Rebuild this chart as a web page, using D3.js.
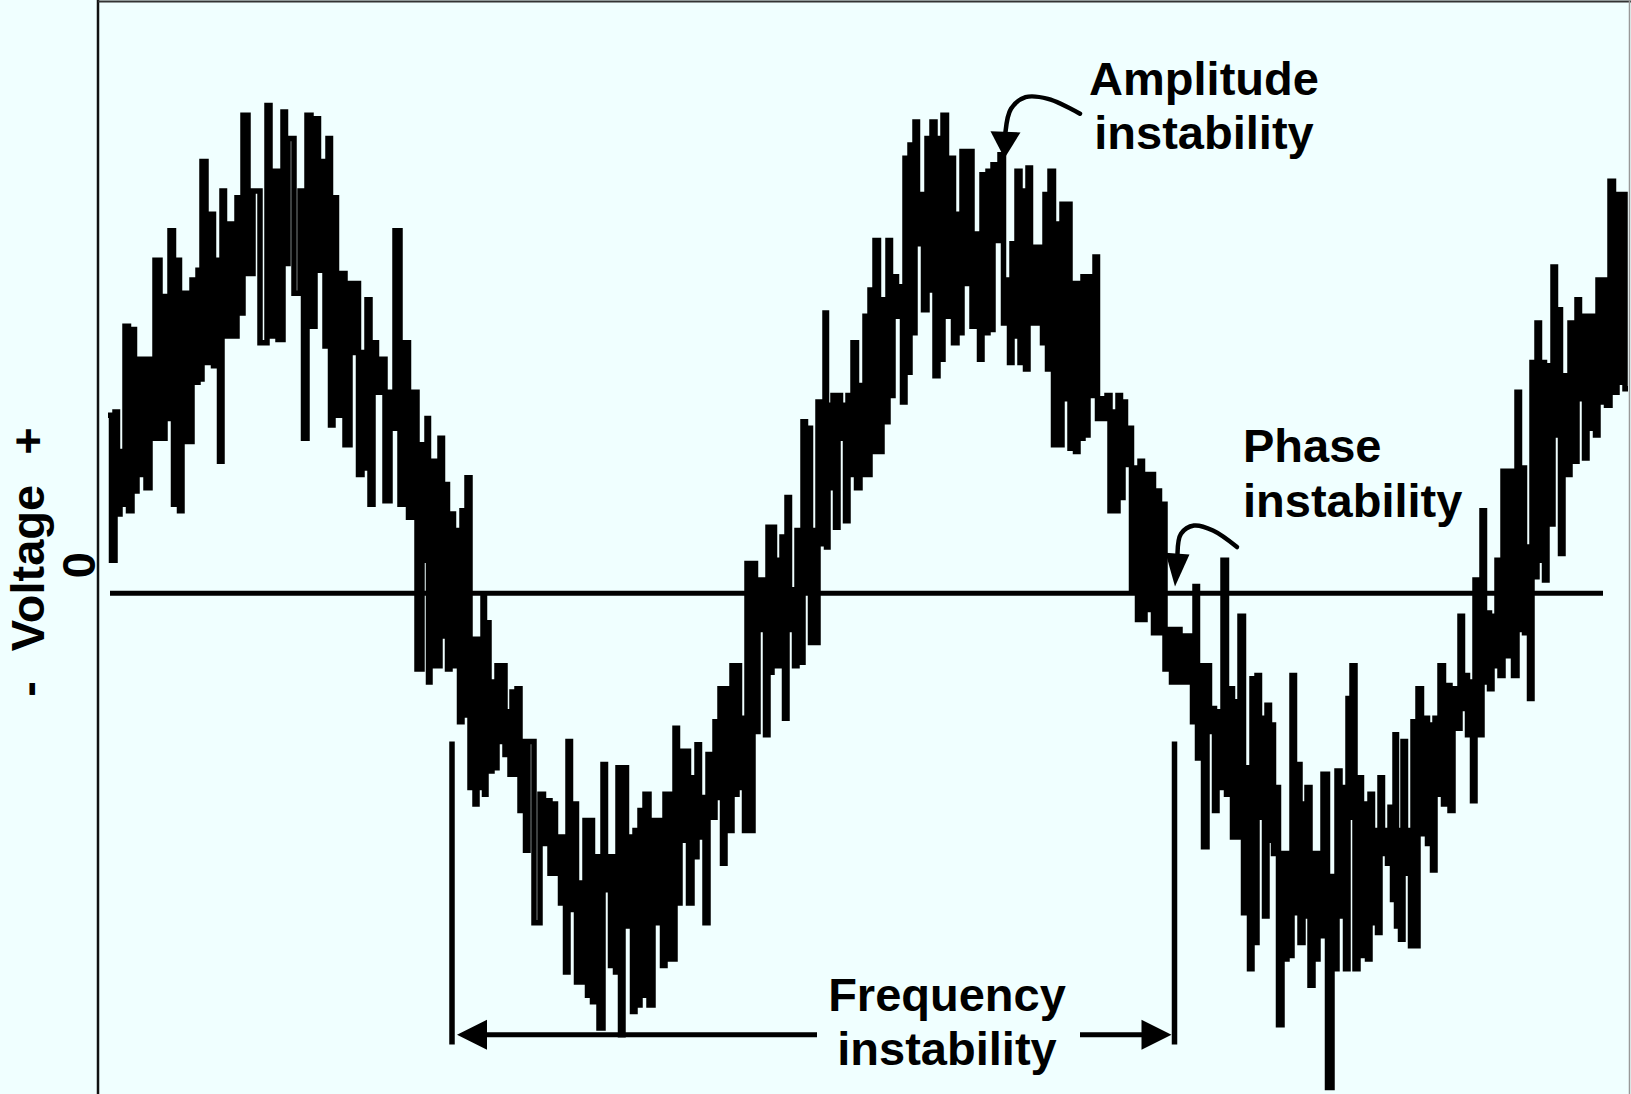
<!DOCTYPE html>
<html>
<head>
<meta charset="utf-8" />
<script src="https://cdn.jsdelivr.net/npm/d3@7/dist/d3.min.js"></script>
<title>Instability</title>
<style>
    body { margin: 0; background: #f0ffff; }
    svg { display: block; font-family: "Liberation Sans", Arial, sans-serif; font-weight: bold; }
</style>
</head>
<body>
<script>
    // trace: [time (samples), max V, min V] per column
    var trace = [
        [2.0,0.54,0.10],[3.4,0.55,0.24],[4.4,0.43,0.27],[5.4,0.81,0.25],[6.8,0.80,0.31],
        [7.8,0.71,0.36],[8.8,0.71,0.32],[10.4,0.71,0.47],[11.4,1.01,0.47],[13.4,0.90,0.53],
        [14.4,1.10,0.27],[15.8,1.01,0.25],[16.8,0.91,0.46],[18.8,0.95,0.64],[20.0,0.98,0.65],
        [20.8,1.31,0.70],[22.4,1.15,0.69],[23.8,1.01,0.40],[24.8,1.22,0.78],[25.8,1.12,0.78],
        [27.8,1.20,0.85],[29.0,1.45,0.97],[31.0,1.22,0.76],[33.8,1.48,0.78],[35.0,1.28,0.77],
        [37.0,1.46,1.00],[38.0,1.38,0.91],[40.4,1.22,0.47],[41.8,1.45,0.81],[43.4,1.44,0.98],
        [44.8,1.31,0.75],[46.0,1.38,0.51],[47.0,1.20,0.54],[48.4,0.97,0.45],[50.4,0.94,0.73],
        [51.4,0.94,0.36],[52.8,0.73,0.38],[53.8,0.89,0.27],[55.0,0.76,0.61],[56.4,0.71,0.28],
        [58.4,0.61,0.50],[59.4,1.10,0.27],[61.4,0.76,0.23],[62.8,0.61,-0.23],[64.8,0.45,0.10],
        [65.8,0.53,-0.27],[66.4,0.40,-0.22],[68.4,0.47,-0.13],[69.4,0.33,-0.23],[70.4,0.24,-0.22],
        [71.8,0.19,-0.39],[72.8,0.25,-0.37],[73.8,0.35,-0.59],
        [75.0,-0.14,-0.64],[75.8,-0.14,-0.59],[77.0,-0.01,-0.61],[77.6,-0.09,-0.54],[78.8,-0.27,-0.53],
        [79.8,-0.22,-0.45],[80.8,-0.22,-0.49],[82.0,-0.36,-0.55],[82.8,-0.30,-0.55],[83.8,-0.29,-0.66],
        [85.0,-0.45,-0.78],[86.0,-0.45,-1.00],[88.4,-0.61,-0.76],[89.8,-0.63,-0.85],[91.0,-0.64,-0.85],
        [92.0,-0.74,-0.94],[93.0,-0.74,-1.15],[94.0,-0.45,-0.96],[95.0,-0.64,-1.18],[96.4,-0.88,-1.18],
        [97.4,-0.69,-1.22],[98.4,-0.69,-1.24],[99.4,-0.80,-1.32],[101.0,-0.52,-0.90],[102.0,-0.80,-1.13],
        [103.0,-0.80,-1.15],[104.0,-0.53,-1.34],[105.0,-0.53,-1.01],[106.4,-0.74,-1.27],[107.4,-0.72,-1.25],
        [108.4,-0.66,-1.22],[109.4,-0.61,-1.25],[111.0,-0.69,-1.00],[112.4,-0.69,-1.13],[113.4,-0.61,-1.11],
        [114.4,-0.61,-1.11],[115.4,-0.41,-0.94],[116.4,-0.48,-0.75],[117.4,-0.48,-0.94],[118.8,-0.56,-0.80],
        [119.8,-0.46,-0.74],[120.8,-0.62,-1.00],[122.0,-0.49,-0.68],[123.4,-0.39,-0.62],[124.4,-0.29,-0.82],
        [125.4,-0.29,-0.72],[126.8,-0.22,-0.61],[127.8,-0.22,-0.59],[128.8,-0.38,-0.72],[129.8,0.09,-0.72],
        [131.0,0.09,-0.42],[132.0,0.04,-0.11],[133.0,0.04,-0.43],[134.0,0.20,-0.24],[134.8,0.20,-0.22],
        [135.8,0.10,-0.22],[136.8,0.17,-0.38],[137.8,0.29,-0.11],[138.8,0.01,-0.22],[139.8,0.19,-0.21],
        [141.0,0.52,0.01],[142.0,0.50,-0.15],[143.0,0.19,-0.15],[144.0,0.58,0.15],[145.4,0.85,0.14],
        [146.0,0.57,0.32],[147.0,0.60,0.20],[148.0,0.60,0.47],[149.0,0.57,0.22],[150.0,0.60,0.36],
        [151.0,0.76,0.32],
        [152.4,0.63,0.36],[153.4,0.84,0.36],[154.4,0.92,0.43],[155.4,1.07,0.43],[156.8,0.89,0.52],
        [158.0,1.07,0.60],[159.0,0.96,0.84],[160.4,0.93,0.58],[161.4,1.32,0.67],[162.4,1.36,0.79],
        [163.4,1.43,1.06],[164.4,1.21,0.86],[165.8,1.38,0.92],[166.8,1.43,0.66],[168.0,1.38,0.71],
        [169.0,1.45,0.84],[170.4,1.32,0.76],[171.8,1.15,0.79],[172.8,1.34,0.94],[173.8,1.34,0.81],
        [175.8,1.09,0.71],[176.8,1.27,0.79],[178.0,1.28,0.80],[179.0,1.30,1.07],[180.4,1.33,0.82],
        [181.8,0.95,0.70],[182.8,1.06,0.78],[183.8,1.28,0.70],[185.0,1.22,0.68],[186.0,1.29,0.82],
        [187.0,1.05,0.82],[188.4,1.05,0.76],[189.4,1.21,0.68],[190.4,1.28,0.45],[191.8,1.12,0.45],
        [192.8,1.18,0.59],[193.8,1.18,0.44],[195.0,0.94,0.43],[196.0,0.94,0.47],[197.0,0.96,0.48],
        [198.0,0.96,0.60],[199.4,1.02,0.53],[200.4,0.59,0.53],[201.8,0.60,0.25],[203.0,0.55,0.25],
        [204.0,0.60,0.29],[205.0,0.58,0.39],[206.0,0.50,0.01],[207.4,0.38,-0.08],[208.4,0.40,-0.08],
        [209.4,0.36,-0.05],[210.4,0.36,-0.12],[211.8,0.31,-0.12],[212.8,0.27,-0.23],[214.0,-0.11,-0.27],
        [215.4,-0.11,-0.27],[217.4,-0.13,-0.27],[218.4,-0.13,-0.39],[219.4,0.02,-0.50],[220.4,-0.22,-0.77],
        [221.8,-0.22,-0.42],[222.8,-0.35,-0.66],[223.8,-0.36,-0.59],[225.0,0.10,-0.61],[226.4,-0.29,-0.74],
        [227.4,-0.33,-0.74],[228.4,-0.07,-0.97],[229.8,-0.53,-1.14],[230.8,-0.26,-1.06],[231.8,-0.25,-0.68],
        [232.8,-0.38,-0.98],[233.8,-0.34,-0.75],[234.8,-0.40,-0.79],[235.4,-0.59,-1.31],[236.8,-0.79,-1.11],
        [237.8,-0.79,-1.10],[238.8,-0.25,-0.97],[239.8,-0.52,-1.06],[241.0,-0.64,-0.98],[241.8,-0.59,-1.19],
        [243.0,-0.79,-1.11],[244.0,-0.79,-1.04],[245.0,-0.55,-1.50],[246.8,-0.86,-1.14],[247.8,-0.54,-0.98],
        [249.0,-0.59,-1.14],[250.0,-0.32,-0.68],[250.8,-0.22,-1.14],[252.0,-0.56,-1.10],[253.4,-0.64,-1.11],
        [254.4,-0.61,-1.00],[255.4,-0.72,-1.03],[256.4,-0.56,-0.79],[257.4,-0.72,-0.82],[258.4,-0.65,-0.93],
        [259.4,-0.43,-1.01],[260.0,-0.72,-1.05],[261.0,-0.45,-0.85],[262.0,-0.72,-1.07],[263.0,-0.39,-1.07],
        [264.0,-0.29,-0.73],[265.4,-0.38,-0.76],[266.4,-0.40,-0.84],[267.4,-0.38,-0.61],[268.4,-0.22,-0.64],
        [269.8,-0.28,-0.66],[271.0,-0.29,-0.41],[272.4,-0.07,-0.35],[273.4,-0.25,-0.43],[274.4,-0.27,-0.63],
        [275.4,0.04,-0.43],[276.8,0.25,-0.27],[277.8,-0.06,-0.29],[278.8,-0.07,-0.22],[279.8,0.10,-0.25],
        [281.0,0.37,-0.19],[282.4,0.37,-0.25],[283.8,0.61,-0.11],[284.8,0.38,-0.12],[285.8,0.14,-0.32],
        [286.8,0.70,0.05],[287.8,0.82,0.10],[288.8,0.70,0.04],[289.8,0.69,0.21],[291.0,0.99,0.48],
        [292.0,0.86,0.12],[293.0,0.66,0.36],[294.4,0.82,0.40],[295.8,0.89,0.59],[296.8,0.84,0.41],
        [297.8,0.84,0.50],[299.0,0.84,0.48],[300.0,0.95,0.58],[301.0,0.95,0.57],[302.4,1.25,0.61],
        [303.8,1.21,0.64],[304.8,1.21,0.62]
    ];
    var traceEnd = 306.0;
    var zeroSpan = [2.4, 301];

    // frequency bracket: marker times, marker top / bottom, arrow level, gap for text
    var freqMarks = [70.8, 215.3];
    var freqMarkV = [-0.45, -1.37];
    var freqLevel = -1.34;
    var freqGap = [143.8, 196.4];

    // annotation arrows (time, V)
    var ampCurve = [[196.4, 1.455], [190, 1.50], [185.5, 1.505], [182.6, 1.47], [181.5, 1.40]];
    var ampTip = [181.3, 1.32];
    var phaseCurve = [[227.8, 0.14], [223, 0.19], [219.2, 0.205], [216.6, 0.18], [215.9, 0.12]];
    var phaseTip = [215.4, 0.02];

    var labels = [
        {lines: ["Amplitude", "instability"], t: 221.2, v: 1.512, anchor: "middle"},
        {lines: ["Phase", "instability"], t: 229.0, v: 0.397, anchor: "start"},
        {lines: ["Frequency", "instability"], t: 169.8, v: -1.267, anchor: "middle"}
    ];

    var svgWidth = 1631,
        svgHeight = 1094;

    var svg = d3.select("body").append("svg")
        .attr("width", svgWidth)
        .attr("height", svgHeight);

    var x = d3.scaleLinear().domain([0, 306.4]).range([98, 1630]);
    var y = d3.scaleLinear().domain([-1.52, 1.8]).range([svgHeight, 0]);

    svg.append("rect")
        .attr("width", svgWidth).attr("height", svgHeight)
        .attr("fill", "#f0ffff");

    // frame
    svg.append("line").attr("x1", x(0)).attr("x2", x(0)).attr("y1", 0).attr("y2", svgHeight)
        .attr("stroke", "#111").attr("stroke-width", 2.5);
    svg.append("line").attr("x1", x(0)).attr("x2", svgWidth).attr("y1", 1.5).attr("y2", 1.5)
        .attr("stroke", "#333").attr("stroke-width", 2);
    svg.append("line").attr("x1", svgWidth - 1.5).attr("x2", svgWidth - 1.5).attr("y1", 0).attr("y2", svgHeight)
        .attr("stroke", "#999").attr("stroke-width", 1.5);

    // zero line
    svg.append("line")
        .attr("x1", x(zeroSpan[0])).attr("x2", x(zeroSpan[1]))
        .attr("y1", y(0)).attr("y2", y(0))
        .attr("stroke", "#000").attr("stroke-width", 5);

    // noisy trace as a stepped line through each column's max and min
    var pts = [];
    trace.forEach(function(d, i) {
        var tNext = i < trace.length - 1 ? trace[i + 1][0] : traceEnd;
        pts.push([d[0], d[1]]);
        pts.push([(d[0] + tNext) / 2, d[2]]);
    });
    pts.push([traceEnd, trace[trace.length - 1][2]]);

    var line = d3.line()
        .x(function(d) { return x(d[0]); })
        .y(function(d) { return y(d[1]); })
        .curve(d3.curveStepAfter);

    svg.append("path")
        .datum(pts)
        .attr("d", line)
        .attr("fill", "none")
        .attr("stroke", "#000")
        .attr("stroke-width", 5.5)
        .attr("stroke-linejoin", "miter");

    // frequency bracket
    freqMarks.forEach(function(t) {
        svg.append("line")
            .attr("x1", x(t)).attr("x2", x(t))
            .attr("y1", y(freqMarkV[0])).attr("y2", y(freqMarkV[1]))
            .attr("stroke", "#000").attr("stroke-width", 5.5);
    });
    var headLen = 30, headHalf = 15;
    var lx = x(freqMarks[0]) + 5, rx = x(freqMarks[1]) - 3, ly = y(freqLevel);
    svg.append("line").attr("x1", lx + headLen - 2).attr("x2", x(freqGap[0])).attr("y1", ly).attr("y2", ly)
        .attr("stroke", "#000").attr("stroke-width", 5);
    svg.append("line").attr("x1", x(freqGap[1])).attr("x2", rx - headLen + 2).attr("y1", ly).attr("y2", ly)
        .attr("stroke", "#000").attr("stroke-width", 5);
    svg.append("polygon")
        .attr("points", [[lx, ly], [lx + headLen, ly - headHalf], [lx + headLen, ly + headHalf]].join(" "));
    svg.append("polygon")
        .attr("points", [[rx, ly], [rx - headLen, ly - headHalf], [rx - headLen, ly + headHalf]].join(" "));

    // curved pointer arrows
    var curve = d3.line()
        .x(function(d) { return x(d[0]); })
        .y(function(d) { return y(d[1]); })
        .curve(d3.curveCatmullRom);

    function pointer(pathPts, tip, half) {
        svg.append("path")
            .attr("d", curve(pathPts))
            .attr("fill", "none")
            .attr("stroke", "#000")
            .attr("stroke-width", 4.5)
            .attr("stroke-linecap", "round");
        var end = pathPts[pathPts.length - 1],
            tx = x(tip[0]), ty = y(tip[1]),
            ex = x(end[0]), ey = y(end[1]),
            dx = tx - ex, dy = ty - ey,
            len = Math.sqrt(dx * dx + dy * dy),
            nx = -dy / len, ny = dx / len;
        svg.append("polygon")
            .attr("points", [[tx, ty], [ex + nx * half, ey + ny * half], [ex - nx * half, ey - ny * half]].join(" "));
    }
    pointer(ampCurve, ampTip, 15);
    pointer(phaseCurve, phaseTip, 12);

    // labels
    labels.forEach(function(d) {
        var txt = svg.append("text")
            .attr("x", x(d.t))
            .attr("y", y(d.v))
            .attr("text-anchor", d.anchor)
            .style("font-size", "47px");
        d.lines.forEach(function(s, i) {
            txt.append("tspan")
                .attr("x", x(d.t))
                .attr("dy", i === 0 ? 0 : "1.16em")
                .text(s);
        });
    });

    // rotated axis title and zero label
    var axisTitle = [{s: "-", c: 689}, {s: "Voltage", c: 568}, {s: "+", c: 441}];
    axisTitle.forEach(function(d) {
        svg.append("text")
            .attr("transform", "translate(44," + d.c + ") rotate(-90)")
            .attr("text-anchor", "middle")
            .style("font-size", "47px")
            .text(d.s);
    });
    svg.append("text")
        .attr("transform", "translate(95," + (y(0) - 28) + ") rotate(-90)")
        .attr("text-anchor", "middle")
        .style("font-size", "47px")
        .text("0");
</script>
</body>
</html>
